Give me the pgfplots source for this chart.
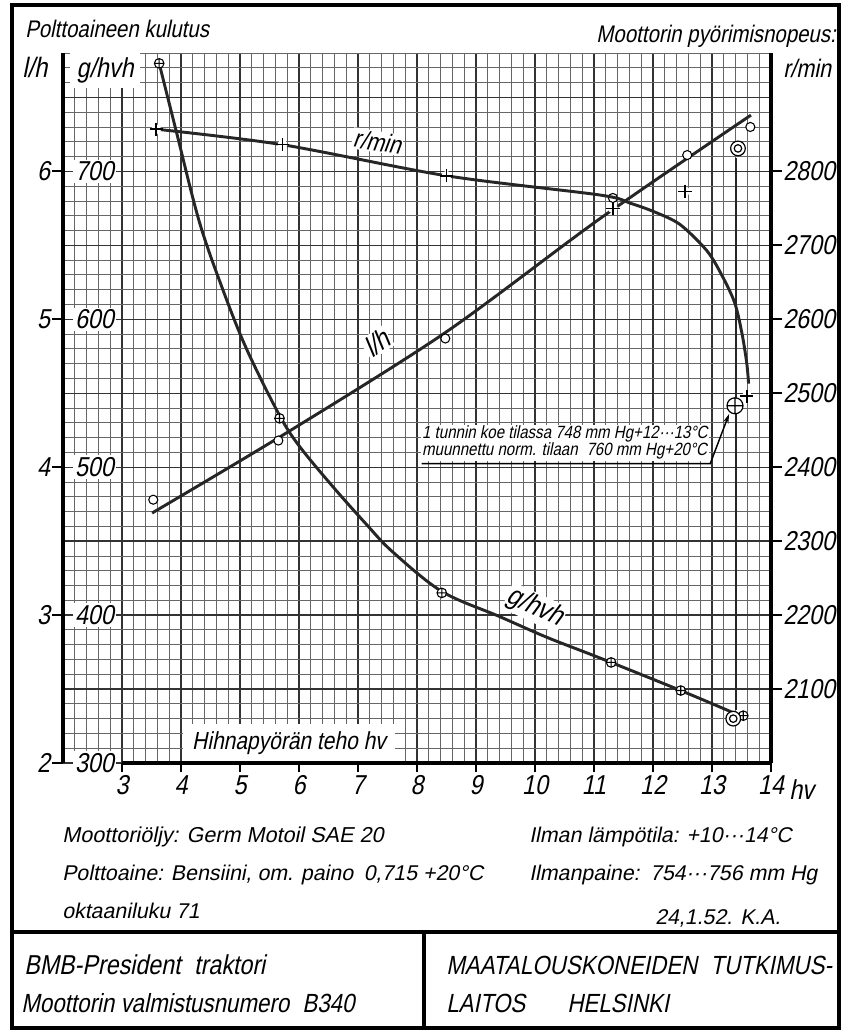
\documentclass[border=0pt]{standalone}
\usepackage{pgfplots}
\pgfplotsset{compat=1.18}
\usepackage{pgfplotstable}
\usepackage{fontspec}
\setmainfont{Liberation Sans}[FakeSlant=0.2]
\newfontfamily\cnd{Liberation Sans}[FakeSlant=0.2, FakeStretch=0.85]
\usetikzlibrary{arrows.meta}
\newcommand{\fs}[1]{\fontsize{#1}{#1}\selectfont}
\newcommand{\cf}[1]{\cnd\fontsize{#1}{#1}\selectfont}

\pgfplotstableread{
hv g
3.63 773
3.92 727
4.31 666
4.70 621
5.11 580
5.67 535
6.01 514
6.57 487
7.15 461
7.58 443
8.42 416
9.40 399
10.20 385
11.10 371
12.47 349
13.36 334
}\ghcurve

\pgfplotstableread{
hv g
3.63 773
5.67 533
8.42 415
11.29 368
12.47 349
13.53 332
}\ghpts

\pgfplotstableread{
hv lh
3.51 3.69
5.78 4.23
8.48 4.91
11.10 5.68
13.66 6.38
}\lhline

\pgfplotstableread{
hv lh
3.53 3.78
5.65 4.18
8.48 4.87
11.32 5.82
12.58 6.11
13.65 6.30
}\lhpts

\pgfplotstableread{
hv rpm
3.58 2857
5.72 2836
8.50 2794
11.10 2768
11.61 2757
12.03 2745
12.46 2728
12.92 2692
13.19 2656
13.39 2621
13.51 2580
13.59 2540
13.62 2513
}\rcurve

\pgfplotstableread{
hv rpm
3.58 2857
5.72 2836
8.50 2794
11.32 2750
12.54 2773
13.59 2496
}\rpts

\pgfplotsset{
  common/.style={
    scale only axis, width=531pt, height=532.5pt,
    at={(47.25pt,-572.25pt)}, anchor=south west,
    xmin=2, xmax=14, clip=false,
    /pgf/number format/assume math mode=true,
    /pgf/number format/1000 sep={},
  },
}

\begin{document}
\begin{tikzpicture}
\path[use as bounding box] (0,0) rectangle (631.5pt,-774pt);

% ---------- main axis: g/hvh with grid ----------
\begin{axis}[common, ymin=300, ymax=780,
  axis line style={draw=none},
  xtick={3,...,14}, xtick pos=left, tick align=outside,
  major tick length=7pt,
  xtick style={line width=1.3pt, black},
  xticklabel style={font=\cf{20.5}, inner sep=2pt},
  ytick={300,350,...,750}, yticklabels={}, ytick style={draw=none},
  minor xtick={2,2.2,...,14}, minor ytick={300,310,...,780},
  minor tick length=0pt,
  grid=both,
  major grid style={line width=0.95pt, black!80},
  minor grid style={line width=0.6pt, black!60},
]
\pgfplotsinvokeforeach{300,400,500,600,700}{
  \node[anchor=east, fill=white, inner sep=1.5pt, font=\cf{20.5}] at (axis cs:2.9,#1) {#1};
}
\node[anchor=north west, fill=white, minimum width=52pt, minimum height=26pt, inner sep=0pt, font=\cf{20.5}] at (axis cs:2.12,780) {g/hvh};

\addplot[line width=1.6pt, black!85] coordinates {(13.41,709) (13.41,336)};
\addplot[line width=2.2pt, black!85, smooth, tension=0.55] table[x=hv,y=g]{\ghcurve};
\addplot[only marks, mark=*, mark size=3.6pt, mark options={fill=white, draw=white}] table[x=hv,y=g]{\ghpts};
\addplot[only marks, mark=oplus, mark size=3.6pt, mark options={line width=0.8pt, draw=black}] table[x=hv,y=g]{\ghpts};
\addplot[only marks, mark=*, mark size=5.5pt, mark options={fill=white, draw=black, line width=0.9pt}] coordinates {(13.36,330)};
\addplot[only marks, mark=o, mark size=2.8pt, mark options={draw=black, line width=0.9pt}] coordinates {(13.36,330)};

\node[rotate=-25, fill=white, inner sep=1pt, font=\cf{21}] at (axis cs:10.0,405) {g/hvh};

\node[anchor=north west, fill=white, inner sep=1pt, align=left, font=\cnd\fontsize{13.3}{12.9}\selectfont] at (axis cs:8.06,529)
  {1 tunnin koe tilassa 748 mm Hg+12···13°C\\muunnettu norm. tilaan\enspace 760 mm Hg+20°C};
\draw[line width=1.1pt, black, -{Stealth[length=7pt,width=4pt]}] (axis cs:8.08,502.4) -- (axis cs:12.97,502.4) -- (axis cs:13.29,536);

\node[fill=white, minimum width=159pt, minimum height=29pt, inner sep=0pt, font=\cf{18.5}] at (axis cs:5.83,313.5) {Hihnapyörän teho hv};
\draw[line width=3pt, black] (axis cs:3,300) -- (axis cs:14,300);
\end{axis}

% ---------- l/h axis ----------
\begin{axis}[common, ymin=2, ymax=6.8,
  axis x line=none, axis y line*=left,
  axis line style={line width=3pt, black, -},
  ytick={2,...,6}, tick align=outside, major tick length=8pt,
  ytick style={line width=1.3pt, black},
  yticklabel style={font=\cf{20.5}, inner sep=1.5pt},
]
\addplot[line width=2.2pt, black!85, smooth] table[x=hv,y=lh]{\lhline};
\addplot[only marks, mark=*, mark size=3.4pt, mark options={fill=white, draw=black, line width=0.8pt}] table[x=hv,y=lh]{\lhpts};
\addplot[only marks, mark=*, mark size=5.5pt, mark options={fill=white, draw=black, line width=0.9pt}] coordinates {(13.44,6.155)};
\addplot[only marks, mark=o, mark size=2.8pt, mark options={draw=black, line width=0.9pt}] coordinates {(13.44,6.155)};
\node[rotate=34, fill=white, inner sep=1pt, font=\cf{21}] at (axis cs:7.32,4.84) {l/h};
\end{axis}

% ---------- r/min axis ----------
\begin{axis}[common, ymin=2000, ymax=2960,
  axis x line=none, axis y line*=right,
  axis line style={line width=3pt, black, -},
  ytick={2100,2200,...,2800}, tick align=outside, major tick length=8pt,
  ytick style={line width=1.3pt, black},
  yticklabel style={font=\cf{20.5}, inner sep=1pt},
]
\addplot[line width=2.2pt, black!85, smooth, tension=0.5] table[x=hv,y=rpm]{\rcurve};
\addplot[only marks, mark=*, mark size=3.5pt, mark options={fill=white, draw=white}] table[x=hv,y=rpm]{\rpts};
\addplot[only marks, mark=+, mark size=5pt, mark options={line width=1.1pt, draw=black}] table[x=hv,y=rpm]{\rpts};
\addplot[only marks, mark=*, mark size=6pt, mark options={fill=white, draw=white}] coordinates {(13.39,2483)};
\addplot[only marks, mark=oplus, mark size=6pt, mark options={line width=0.9pt, draw=black}] coordinates {(13.39,2483)};
\node[rotate=-9, fill=white, inner sep=1pt, font=\cf{19}] at (axis cs:7.33,2840) {r/min};
\end{axis}

% ---------- frame and texts (pixel coordinates) ----------
\begin{scope}[x=0.75pt,y=-0.75pt]
\draw[line width=2.5pt] (12,5) rectangle (839,1028);
\draw[line width=2.5pt] (12,932) -- (839,932);
\draw[line width=2.5pt] (424,932) -- (424,1028);

\node[anchor=base west, inner sep=0pt, font=\cf{18}] at (25,37) {Polttoaineen kulutus};
\node[anchor=base east, inner sep=0pt, font=\cf{18}] at (836,42) {Moottorin pyörimisnopeus:};
\node[anchor=base west, inner sep=0pt, font=\cf{21}] at (22,77) {l/h};
\node[anchor=base west, inner sep=0pt, font=\cf{19}] at (783,77) {r/min};
\node[anchor=base west, inner sep=0pt, font=\cf{20.5}] at (789,799) {hv};

\node[anchor=base west, inner sep=0pt, font=\fs{16.2}] at (62,842) {Moottoriöljy: Germ Motoil SAE 20};
\node[anchor=base west, inner sep=0pt, font=\fs{16}] at (62,880) {Polttoaine: Bensiini, om. paino\enspace 0,715 +20°C};
\node[anchor=base west, inner sep=0pt, font=\fs{16}] at (62,918) {oktaaniluku 71};
\node[anchor=base west, inner sep=0pt, font=\fs{16}] at (529,842) {Ilman lämpötila: +10···14°C};
\node[anchor=base west, inner sep=0pt, font=\fs{16}] at (529,880) {Ilmanpaine:\enspace 754···756 mm Hg};
\node[anchor=base west, inner sep=0pt, font=\fs{16}] at (655,924) {24,1.52. K.A.};

\node[anchor=base west, inner sep=0pt, font=\cf{20.5}] at (24,974) {BMB-President\enspace traktori};
\node[anchor=base west, inner sep=0pt, font=\cf{19.7}] at (21,1012) {Moottorin valmistusnumero\enspace B340};
\node[anchor=base west, inner sep=0pt, font=\cf{19.7}] at (446,974) {MAATALOUSKONEIDEN\enspace TUTKIMUS-};
\node[anchor=base west, inner sep=0pt, font=\cf{19.7}] at (446,1012) {LAITOS};
\node[anchor=base west, inner sep=0pt, font=\cf{19.7}] at (567,1012) {HELSINKI};
\end{scope}
\end{tikzpicture}
\end{document}
